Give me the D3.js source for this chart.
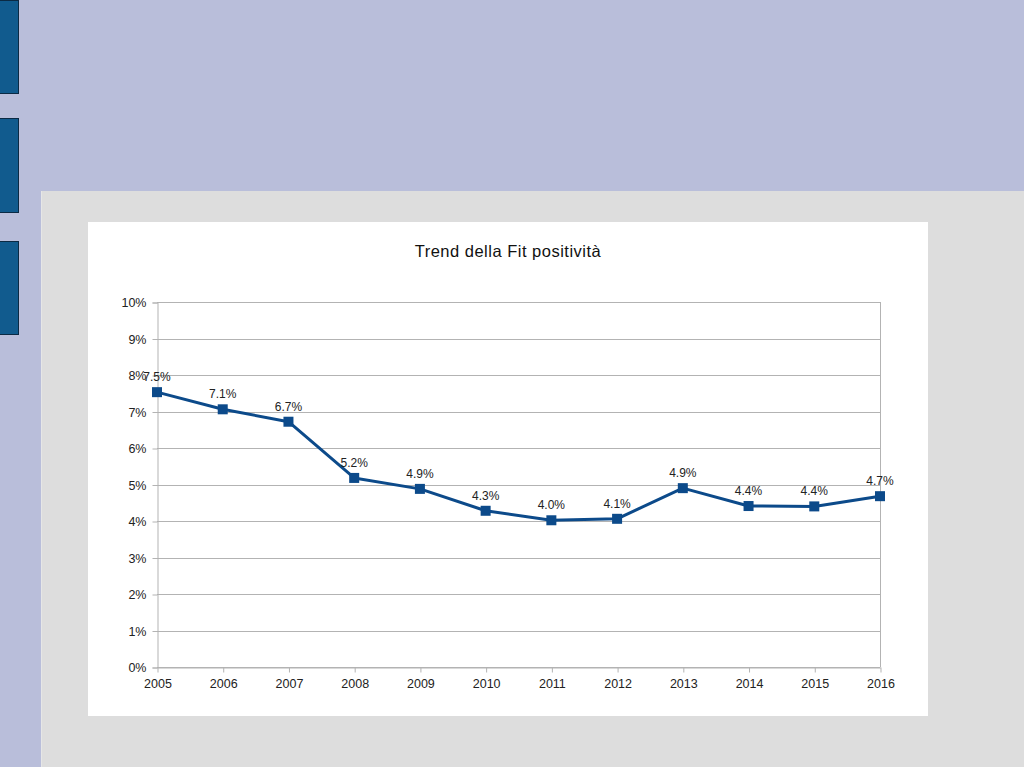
<!DOCTYPE html>
<html><head><meta charset="utf-8">
<script src="https://cdn.jsdelivr.net/npm/d3@7"></script>
<style>body{margin:0;padding:0;overflow:hidden;background:#B9BEDA;}svg{display:block;}</style>
</head><body>
<script>
const years = ["2005","2006","2007","2008","2009","2010","2011","2012","2013","2014","2015","2016"];
const values = [7.53, 7.06, 6.72, 5.18, 4.88, 4.28, 4.02, 4.06, 4.90, 4.41, 4.40, 4.68];
const yTicks = [0,1,2,3,4,5,6,7,8,9,10];
const title = "Trend della Fit positività";

const W = 1024, H = 767;
const FONT = "Liberation Sans, Arial, sans-serif";
const svg = d3.select("body").append("svg").attr("width", W).attr("height", H);
svg.append("rect").attr("width", W).attr("height", H).attr("fill", "#B9BEDA");
// left tabs
[[0,93],[118,212],[241,334]].forEach(([a,b]) => {
  svg.append("rect").attr("x", -1).attr("y", a + 0.5).attr("width", 19.5).attr("height", b - a)
    .attr("fill", "#115B8E").attr("stroke", "#0B2A44").attr("stroke-width", 1);
});
// gray panel
svg.append("rect").attr("x", 41).attr("y", 191).attr("width", W - 41).attr("height", H - 191).attr("fill", "#DDDDDD");
svg.append("line").attr("x1", 41.5).attr("x2", 41.5).attr("y1", 191).attr("y2", H).attr("stroke", "#E6E6E6");
// white chart box
svg.append("rect").attr("x", 88).attr("y", 222).attr("width", 840).attr("height", 494).attr("fill", "#FFFFFF");

const x = d3.scalePoint().domain(years).range([157, 880]);
const y = d3.scaleLinear().domain([0, 10]).range([667, 302]);

const g = svg.append("g").attr("font-family", FONT);

// gridlines
g.selectAll("line.grid").data(yTicks).join("line").attr("class","grid")
  .attr("x1", 157).attr("x2", 880)
  .attr("y1", d => Math.round(y(d)) + 0.5).attr("y2", d => Math.round(y(d)) + 0.5)
  .attr("stroke", "#B3B3B3").attr("stroke-width", 1);
// right border
g.append("line").attr("x1", 880.5).attr("x2", 880.5).attr("y1", y(10)).attr("y2", y(0))
  .attr("stroke", "#B3B3B3");

// y axis
const yAxis = g.append("g").attr("transform", "translate(157.5,0.5)")
  .call(d3.axisLeft(y).tickValues(yTicks).tickFormat(d => d + "%").tickSize(5).tickPadding(6));
yAxis.select(".domain").attr("stroke", "#B3B3B3");
yAxis.selectAll(".tick line").attr("stroke", "#B3B3B3");
yAxis.selectAll("text").attr("font-size", 12.5).attr("fill", "#222").attr("font-family", FONT);

// x axis
const xAxis = g.append("g").attr("transform", "translate(0.5," + (Math.round(y(0)) + 0.5) + ")")
  .call(d3.axisBottom(x).tickSize(5).tickPadding(7).tickSizeOuter(0));
xAxis.select(".domain").attr("stroke", "#B3B3B3");
xAxis.selectAll(".tick line").attr("stroke", "#B3B3B3");
xAxis.selectAll("text").attr("font-size", 12.5).attr("fill", "#222").attr("font-family", FONT);

// line
const line = d3.line().x((d, i) => x(years[i])).y(d => y(d));
g.append("path").datum(values).attr("d", line).attr("fill", "none")
  .attr("stroke", "#0C4A8A").attr("stroke-width", 3).attr("stroke-linejoin", "round");
// markers
g.selectAll("rect.m").data(values).join("rect").attr("class","m")
  .attr("x", (d, i) => x(years[i]) - 5).attr("y", d => y(d) - 5)
  .attr("width", 10).attr("height", 10).attr("fill", "#0C4A8A");
// labels
g.selectAll("text.lbl").data(values).join("text").attr("class","lbl")
  .attr("x", (d, i) => x(years[i])).attr("y", d => y(d) - 11)
  .attr("text-anchor", "middle").attr("font-size", 12).attr("fill", "#222")
  .text(d => d.toFixed(1) + "%");

// title
g.append("text").attr("x", 508).attr("y", 257).attr("text-anchor", "middle")
  .attr("font-size", 16.5).attr("letter-spacing", 0.5).attr("fill", "#111").text(title);
</script>
</body></html>
